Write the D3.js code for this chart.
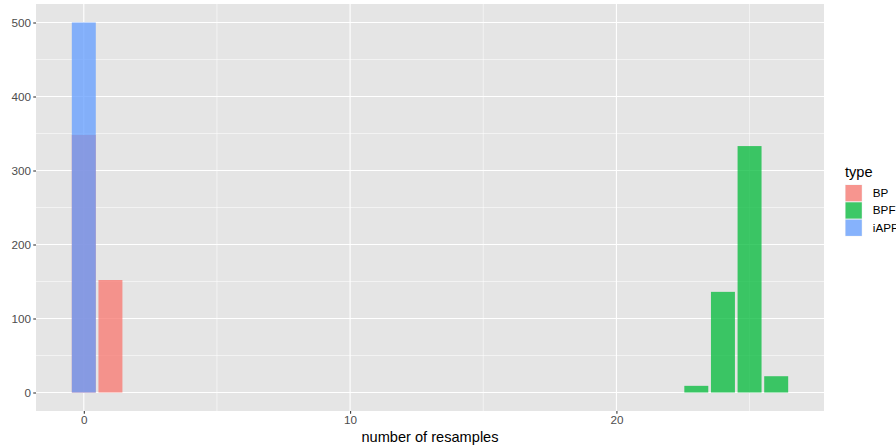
<!DOCTYPE html>
<html>
<head>
<meta charset="utf-8">
<script src="https://cdn.jsdelivr.net/npm/d3@7"></script>
<style>
  html, body { margin: 0; padding: 0; background: #fff; }
  svg { display: block; font-family: "Liberation Sans", Arial, sans-serif; }
</style>
</head>
<body>
<svg id="chart" width="896" height="448"></svg>
<script>
// Resample counts per filter type
const types = ["BP", "BPF", "iAPF"];
const typeColors = ["#F8766D", "#00BA38", "#619CFF"];
const bpResamples = [0, 1];
const bpCounts = [348, 152];
const bpfResamples = [23, 24, 25, 26];
const bpfCounts = [9, 136, 333, 22];
const iapfResamples = [0];
const iapfCounts = [500];
const xTicks = [0, 10, 20];
const yTicks = [0, 100, 200, 300, 400, 500];

const series = [
  { type: "BP", xs: bpResamples, ys: bpCounts },
  { type: "BPF", xs: bpfResamples, ys: bpfCounts },
  { type: "iAPF", xs: iapfResamples, ys: iapfCounts }
];

const svg = d3.select("#chart");
const panel = { left: 36, right: 824, top: 4, bottom: 411 };
const barWidth = 0.9;
const alpha = 0.75;

// 5% expansion around the data range
const allX = series.flatMap(s => s.xs);
const xMin = d3.min(allX) - barWidth / 2, xMax = d3.max(allX) + barWidth / 2;
const xPad = (xMax - xMin) * 0.05;
const x = d3.scaleLinear().domain([xMin - xPad, xMax + xPad]).range([panel.left, panel.right]);
const yMax = d3.max(series.flatMap(s => s.ys));
const y = d3.scaleLinear().domain([-yMax * 0.05, yMax * 1.05]).range([panel.bottom, panel.top]);
const color = d3.scaleOrdinal().domain(types).range(typeColors);

// panel background
svg.append("rect")
  .attr("x", panel.left).attr("y", panel.top)
  .attr("width", panel.right - panel.left).attr("height", panel.bottom - panel.top)
  .attr("fill", "#E5E5E5");

// minor grid
const yMinor = yTicks.map(v => v + 50).filter(v => v < y.domain()[1]);
const xMinor = [5, 15, 25].filter(v => v > x.domain()[0] && v < x.domain()[1]);
svg.append("g").selectAll("line").data(yMinor).join("line")
  .attr("x1", panel.left).attr("x2", panel.right)
  .attr("y1", d => y(d)).attr("y2", d => y(d))
  .attr("stroke", "#fff").attr("stroke-width", 0.55);
svg.append("g").selectAll("line").data(xMinor).join("line")
  .attr("y1", panel.top).attr("y2", panel.bottom)
  .attr("x1", d => x(d)).attr("x2", d => x(d))
  .attr("stroke", "#fff").attr("stroke-width", 0.55);

// major grid
svg.append("g").selectAll("line").data(yTicks).join("line")
  .attr("x1", panel.left).attr("x2", panel.right)
  .attr("y1", d => y(d)).attr("y2", d => y(d))
  .attr("stroke", "#fff").attr("stroke-width", 1.1);
svg.append("g").selectAll("line").data(xTicks).join("line")
  .attr("y1", panel.top).attr("y2", panel.bottom)
  .attr("x1", d => x(d)).attr("x2", d => x(d))
  .attr("stroke", "#fff").attr("stroke-width", 1.1);

// bars
const bars = svg.append("g");
series.forEach(s => {
  bars.append("g").selectAll("rect")
    .data(s.xs.map((v, i) => ({ x: v, y: s.ys[i] })))
    .join("rect")
    .attr("x", d => x(d.x - barWidth / 2))
    .attr("width", d => x(d.x + barWidth / 2) - x(d.x - barWidth / 2))
    .attr("y", d => y(d.y))
    .attr("height", d => y(0) - y(d.y))
    .attr("fill", color(s.type))
    .attr("fill-opacity", alpha);
});

// axes
const yAxis = d3.axisLeft(y).tickValues(yTicks).tickSize(2.75).tickPadding(2.2);
const gy = svg.append("g").attr("transform", `translate(${panel.left},0)`).call(yAxis);
const xAxis = d3.axisBottom(x).tickValues(xTicks).tickSize(2.75).tickPadding(2.2);
const gx = svg.append("g").attr("transform", `translate(0,${panel.bottom})`).call(xAxis);
[gx, gy].forEach(g => {
  g.select(".domain").remove();
  g.selectAll(".tick line").attr("stroke", "#333").attr("stroke-width", 1.07);
  g.selectAll(".tick text").attr("fill", "#4D4D4D").style("font-size", "11.7px")
    .style("font-family", "'Liberation Sans', Arial, sans-serif");
});

// axis title
svg.append("text")
  .attr("x", (panel.left + panel.right) / 2).attr("y", 442)
  .attr("text-anchor", "middle")
  .style("font-size", "14.6px").attr("fill", "#000")
  .text("number of resamples");

// legend
const legend = svg.append("g").attr("transform", "translate(845,0)");
legend.append("text").attr("x", 0).attr("y", 177)
  .style("font-size", "14.6px").attr("fill", "#000").text("type");
const keySize = 17.3;
const keyTop = 184.5;
types.forEach((t, i) => {
  const ky = keyTop + i * keySize;
  legend.append("rect").attr("x", 0).attr("y", ky).attr("width", keySize).attr("height", keySize)
    .attr("fill", "#F2F2F2");
  legend.append("rect").attr("x", 0.5).attr("y", ky + 0.5).attr("width", keySize - 1).attr("height", keySize - 1)
    .attr("fill", color(t)).attr("fill-opacity", alpha);
  legend.append("text").attr("x", keySize + 10.5).attr("y", ky + keySize / 2 + 4)
    .style("font-size", "11.7px").attr("fill", "#000").text(t);
});
</script>
</body>
</html>
